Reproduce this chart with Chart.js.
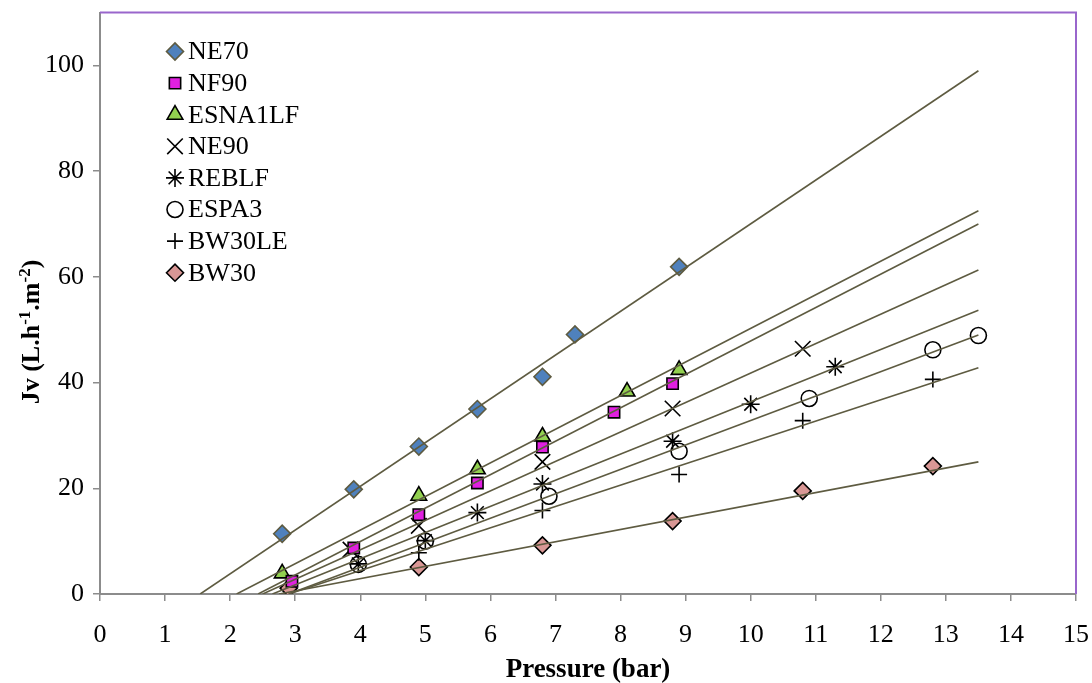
<!DOCTYPE html>
<html>
<head>
<meta charset="utf-8">
<script src="https://cdn.jsdelivr.net/npm/chart.js@4/dist/chart.umd.min.js"></script>
<style>
  body { margin: 0; background: #fff; }
</style>
</head>
<body>
<canvas id="JvChart" width="1092" height="683"></canvas>
<script>
// membranes, in legend order
var seriesNames = ['NE70', 'NF90', 'ESNA1LF', 'NE90', 'REBLF', 'ESPA3', 'BW30LE', 'BW30'];

// pressure (bar) / Jv (L.h-1.m-2)
var ne70P = [2.8, 3.9, 4.9, 5.8, 6.8, 7.3, 8.9];
var ne70J = [11.4, 19.8, 27.9, 35.0, 41.1, 49.1, 61.9];
var nf90P = [2.95, 3.9, 4.9, 5.8, 6.8, 7.9, 8.8];
var nf90J = [2.4, 8.7, 15.0, 21.0, 27.8, 34.4, 39.8];
var esnaP = [2.8, 4.9, 5.8, 6.8, 8.1, 8.9];
var esnaJ = [3.9, 18.6, 23.6, 29.8, 38.3, 42.4];
var ne90P = [3.85, 4.9, 6.8, 8.8, 10.8];
var ne90J = [8.4, 12.9, 25.0, 35.1, 46.4];
var reblfP = [3.97, 5.0, 5.8, 6.8, 8.8, 10.0, 11.3];
var reblfJ = [5.7, 10.1, 15.4, 20.8, 28.9, 35.9, 43.0];
var espa3P = [3.97, 5.0, 6.9, 8.9, 10.9, 12.8, 13.5];
var espa3J = [5.6, 10.0, 18.5, 27.0, 37.0, 46.2, 48.9];
var bw30leP = [4.9, 6.8, 8.9, 10.8, 12.8];
var bw30leJ = [7.8, 15.8, 22.6, 32.8, 40.6];
var bw30P = [2.9, 4.9, 6.8, 8.8, 10.8, 12.8];
var bw30J = [1.1, 5.1, 9.2, 13.8, 19.5, 24.2];

// trend lines: pressure where Jv = 0, and Jv at the last pressure
var trendStartP = [1.54, 2.43, 2.1, 2.5, 2.65, 2.9, 2.9, 2.75];
var trendEndP = 13.5;
var trendEndJ = [99, 70, 72.5, 61.3, 53.7, 49, 42.8, 25];

var xTicks = [0, 1, 2, 3, 4, 5, 6, 7, 8, 9, 10, 11, 12, 13, 14, 15];
var yTicks = [0, 20, 40, 60, 80, 100];

var allP = [ne70P, nf90P, esnaP, ne90P, reblfP, espa3P, bw30leP, bw30P];
var allJ = [ne70J, nf90J, esnaJ, ne90J, reblfJ, espa3J, bw30leJ, bw30J];

var lineColor = '#5e5b41';
var markers = [
    { pointStyle: 'rectRot', radius: 8.5, fill: '#4f81bd', stroke: lineColor, width: 1.6 },
    { pointStyle: 'rect', radius: 8, fill: '#e020e0', stroke: '#000', width: 1.6 },
    { pointStyle: 'triangle', radius: 9, fill: '#92d050', stroke: '#000', width: 1.6 },
    { pointStyle: 'crossRot', radius: 11, fill: '#000', stroke: '#000', width: 1.6 },
    { pointStyle: 'star', radius: 9, fill: '#000', stroke: '#000', width: 1.6 },
    { pointStyle: 'circle', radius: 8, fill: 'rgba(0,0,0,0)', stroke: '#000', width: 1.6 },
    { pointStyle: 'cross', radius: 8, fill: '#000', stroke: '#000', width: 1.6 },
    { pointStyle: 'rectRot', radius: 8.5, fill: '#d99795', stroke: '#000', width: 1.6 }
];

function toPoints(px, py) {
    var out = [];
    for (var i = 0; i < px.length; i++) out.push({ x: px[i], y: py[i] });
    return out;
}

var datasets = [];
for (var i = 0; i < seriesNames.length; i++) {
    datasets.push({
        label: seriesNames[i] + ' fit',
        data: [{ x: trendStartP[i], y: 0 }, { x: trendEndP, y: trendEndJ[i] }],
        showLine: true,
        borderColor: lineColor,
        borderWidth: 1.6,
        pointRadius: 0,
        fill: false,
        order: 0
    });
}
for (var i = 0; i < seriesNames.length; i++) {
    var m = markers[i];
    datasets.push({
        label: seriesNames[i],
        data: toPoints(allP[i], allJ[i]),
        showLine: false,
        pointStyle: m.pointStyle,
        pointRadius: m.radius,
        pointBackgroundColor: m.fill,
        pointBorderColor: m.stroke,
        pointBorderWidth: m.width,
        order: 1
    });
}

var serif = "'Liberation Serif', 'Times New Roman', serif";

// frame, legend and y title
var extras = {
    id: 'extras',
    afterDraw: function (chart) {
        var ctx = chart.ctx;
        var a = chart.chartArea;
        ctx.save();
        ctx.strokeStyle = '#9966cc';
        ctx.lineWidth = 2;
        ctx.beginPath();
        ctx.moveTo(a.left, a.top);
        ctx.lineTo(a.right, a.top);
        ctx.lineTo(a.right, a.bottom);
        ctx.stroke();

        // legend
        ctx.font = '26px ' + serif;
        ctx.textBaseline = 'middle';
        for (var i = 0; i < seriesNames.length; i++) {
            var y = 51.5 + i * 31.6;
            var m = markers[i];
            ctx.fillStyle = m.fill;
            ctx.strokeStyle = m.stroke;
            ctx.lineWidth = m.width;
            Chart.helpers.drawPoint(ctx, { pointStyle: m.pointStyle, radius: m.radius, rotation: 0, borderWidth: m.width }, 175, y);
            ctx.fillStyle = '#000';
            ctx.textAlign = 'left';
            ctx.fillText(seriesNames[i], 188, y + 1);
        }

        // y title with superscripts
        ctx.translate(31, 332);
        ctx.rotate(-Math.PI / 2);
        var parts = [['Jv (L.h', 0], ['-1', 1], ['.m', 0], ['-2', 1], [')', 0]];
        var big = 'bold 26px ' + serif, small = 'bold 17px ' + serif;
        var total = 0;
        parts.forEach(function (p) { ctx.font = p[1] ? small : big; total += ctx.measureText(p[0]).width; });
        var x = -total / 2;
        ctx.textAlign = 'left';
        ctx.textBaseline = 'alphabetic';
        parts.forEach(function (p) {
            ctx.font = p[1] ? small : big;
            ctx.fillText(p[0], x, p[1] ? -1 : 8);
            x += ctx.measureText(p[0]).width;
        });
        ctx.restore();
    }
};

var jvChart = new Chart(document.getElementById('JvChart'), {
    type: 'scatter',
    data: { datasets: datasets },
    options: {
        responsive: false,
        animation: false,
        layout: { padding: { top: 3, right: 16, left: 0, bottom: 0 } },
        plugins: { legend: { display: false }, tooltip: { enabled: false } },
        scales: {
            x: {
                type: 'linear',
                min: 0,
                max: 15,
                afterBuildTicks: function (s) { s.ticks = xTicks.map(function (v) { return { value: v }; }); },
                afterFit: function (s) { s.height = 89; s.paddingLeft = 0; s.paddingRight = 0; },
                ticks: { color: '#000', font: { family: serif, size: 26 }, padding: 19, maxRotation: 0, autoSkip: false },
                grid: { drawOnChartArea: false, color: '#8c8c8c', tickLength: 7, lineWidth: 1.5 },
                border: { color: '#8c8c8c', width: 2 },
                title: { display: true, text: 'Pressure (bar)', color: '#000', font: { family: serif, size: 27, weight: 'bold' }, padding: { top: 0, bottom: -3 } }
            },
            y: {
                type: 'linear',
                min: 0,
                max: 110,
                afterBuildTicks: function (s) { s.ticks = yTicks.map(function (v) { return { value: v }; }); },
                afterFit: function (s) { s.width = 100; s.paddingTop = 0; s.paddingBottom = 0; },
                ticks: { color: '#000', font: { family: serif, size: 26 }, padding: 9 },
                grid: { drawOnChartArea: false, color: '#8c8c8c', tickLength: 7, lineWidth: 1.5 },
                border: { color: '#8c8c8c', width: 2 }
            }
        }
    },
    plugins: [extras]
});

// nudge the plot area so its top edge sits at y = 8
for (var k = 0; k < 3; k++) {
    var shift = jvChart.chartArea.top - 8;
    if (Math.abs(shift) < 0.5) break;
    jvChart.options.layout.padding.top -= shift;
    jvChart.update();
}
</script>
</body>
</html>
